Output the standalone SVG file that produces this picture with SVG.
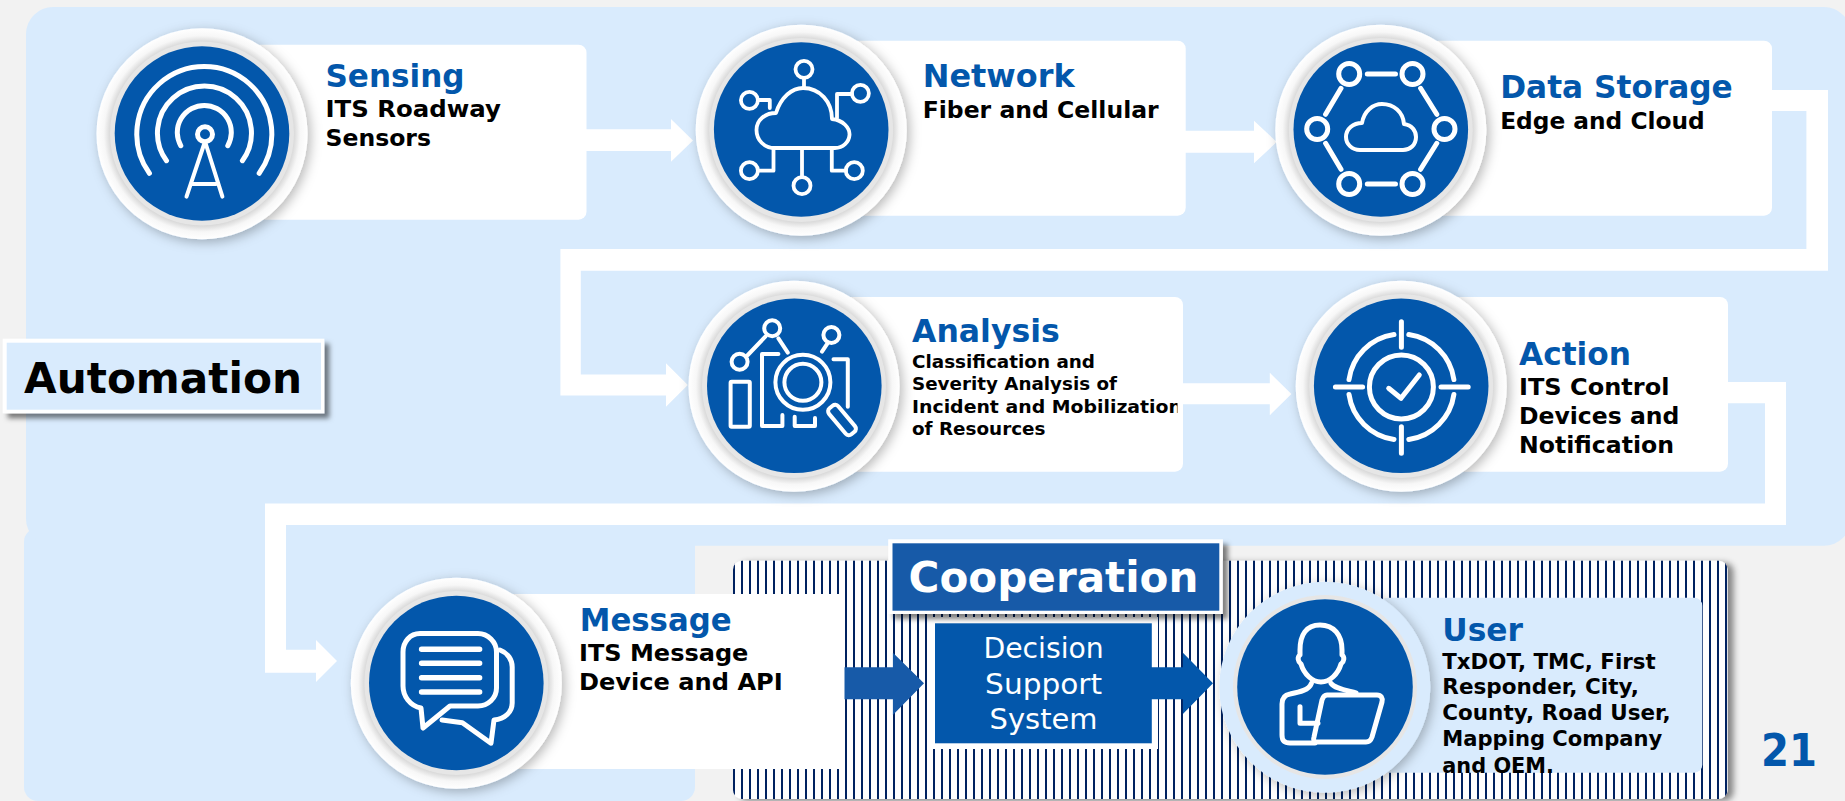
<svg xmlns="http://www.w3.org/2000/svg" width="1845" height="801" viewBox="0 0 1845 801">
<style>
text{font-family:"DejaVu Sans","Liberation Sans",sans-serif}
.t{font-weight:700;font-size:32px;fill:#0357ab;transform:translateX(-1px)}
.s{font-weight:700;font-size:23.5px;fill:#000;transform:translateX(-1px)}
.m{font-weight:700;font-size:17.5px;fill:#000;transform:translateX(-1px)}
.u{font-weight:700;font-size:21.5px;fill:#000;transform:translateX(-1px)}
.d{font-size:28px;fill:#fff;text-anchor:middle}
.card{fill:#fff}
.o{fill:url(#ringGrad);filter:url(#cs)}
.r{fill:#e6e6e6}
.b{fill:#0357ab}
.i{fill:none;stroke:#fff;stroke-width:5;stroke-linecap:round;stroke-linejoin:round}
.n{stroke-width:3.8}
</style>
<defs>
<pattern id="stripes" patternUnits="userSpaceOnUse" x="5" y="0" width="8" height="8">
<rect width="8" height="8" fill="#fff"/><rect width="2" height="8" fill="#002060"/>
</pattern>
<radialGradient id="ringGrad"><stop offset=".86" stop-color="#d4d4d4"/><stop offset=".93" stop-color="#f7f7f7"/><stop offset="1" stop-color="#fff"/></radialGradient>
<filter id="cs" x="-20%" y="-20%" width="150%" height="150%"><feDropShadow dx="3" dy="3" stdDeviation="6" flood-color="#000" flood-opacity=".28"/></filter>
<filter id="ps" x="-5%" y="-10%" width="110%" height="120%"><feDropShadow dx="6" dy="2" stdDeviation="3" flood-color="#000" flood-opacity=".45"/></filter>
<filter id="ls" x="-5%" y="-20%" width="110%" height="140%"><feDropShadow dx="5" dy="5" stdDeviation="2.5" flood-color="#000" flood-opacity=".5"/></filter>
<clipPath id="anClip"><rect x="900" y="290" width="278.5" height="190"/></clipPath>
</defs>

<rect width="1845" height="801" fill="#f2f2f2"/>
<g id="panels">
<rect x="24" y="528" width="671" height="273" rx="14" fill="#d9ebfd"/>
<rect x="26" y="7" width="1825" height="538.7" rx="27" fill="#d9ebfd"/>
<rect id="cooperation-panel" x="733" y="560.7" width="994.5" height="238.3" rx="9" fill="url(#stripes)" filter="url(#ps)"/>
</g>

<g id="decision-support-system">
<rect x="928" y="617" width="230" height="132" fill="#fff"/>
<rect x="935" y="623.3" width="216.8" height="120" fill="#0357ab"/>
<text class="d" x="1043.6" y="658.3" textLength="120.4" lengthAdjust="spacingAndGlyphs">Decision</text>
<text class="d" x="1043.6" y="693.7" textLength="117" lengthAdjust="spacingAndGlyphs">Support</text>
<text class="d" x="1043.6" y="729.3" textLength="108" lengthAdjust="spacingAndGlyphs">System</text>
</g>

<g id="connectors">
<path fill="#fff" d="M586,129.3H671V119L693,140.5L671,161.7V151H586Z"/>
<path fill="#fff" d="M1185,130.7H1254V120.7L1276.7,142L1254,163.3V152.7H1185Z"/>
<path fill="#fff" d="M1772,90H1828V270.7H580.8V374.5H666V363.3L687.8,385L666,406.7V395.5H560.4V249H1806.4V111H1772Z"/>
<path fill="#fff" d="M1182,383.3H1269.8V372.7L1291.4,394L1269.8,415.3V404.3H1182Z"/>
<path fill="#fff" d="M1727,382H1786V525H286V649.7H316V640L337,661L316,682V672.7H265V503.5H1765V403.3H1727Z"/>
<path fill="#175aa8" d="M844,667.3H892.9V652.7L924,683.3L892.9,715V699.3H844Z"/>
<path fill="#0357ab" d="M1151,667.3H1182.9V652.7L1213,683.3L1182.9,714V699.3H1151Z"/>
</g>

<g id="sensing">
<rect class="card" x="250" y="44.7" width="336.5" height="175" rx="8"/>
<circle class="o" cx="202" cy="133.8" r="105.5"/><circle class="r" cx="202" cy="133.5" r="92"/><circle class="b" cx="202" cy="133.5" r="87.3"/>
<g class="i">
<circle cx="205" cy="134.3" r="7.5"/>
<path d="M180.8,145.7A27,27 0 1 1 227.8,145.7M166.5,160.7A47,47 0 1 1 242.4,160.7M149.4,173.3A67.5,67.5 0 1 1 259.2,173.3"/>
<path d="M204.5,143L186.5,196.7M205.5,143L222.4,196.7M193,184H216" style="stroke-width:4"/>
</g>
<text class="t" x="326.5" y="86.7" textLength="139" lengthAdjust="spacingAndGlyphs">Sensing</text>
<text class="s" x="326.5" y="116.7" textLength="175.5" lengthAdjust="spacingAndGlyphs">ITS Roadway</text>
<text class="s" x="326.5" y="145.7" textLength="105.5" lengthAdjust="spacingAndGlyphs">Sensors</text>
</g>

<g id="network">
<rect class="card" x="850" y="40.7" width="335.7" height="175" rx="8"/>
<circle class="o" cx="801.2" cy="130.2" r="105.5"/><circle class="r" cx="801.2" cy="130" r="92"/><circle class="b" cx="801.2" cy="129.5" r="87.3"/>
<g class="i n">
<path d="M776,113C781,97 792,88 803,88C820,88 832,102 832,119C843,120 850,128 849.5,135C849,142 843,148 835,148L775,148C764,148 756.5,140 756.5,130C756.5,120 765,113 776,113Z"/>
<circle cx="804" cy="69.3" r="8.5"/><circle cx="749.4" cy="100.3" r="8.5"/><circle cx="860.4" cy="93.3" r="8.5"/><circle cx="749.4" cy="170.7" r="8.5"/><circle cx="802" cy="185.7" r="8.5"/><circle cx="854.3" cy="170.7" r="8.5"/>
<path d="M804,78V88M758,100H769.8V108M852,94H837V118M758,170.7H773.5V149M802,177V149M846,170.7H831.8V149"/>
</g>
<text class="t" x="923.7" y="87.3" textLength="152" lengthAdjust="spacingAndGlyphs">Network</text>
<text class="s" x="923.7" y="118.3" textLength="236" lengthAdjust="spacingAndGlyphs">Fiber and Cellular</text>
</g>

<g id="data-storage">
<rect class="card" x="1430" y="40.7" width="342" height="175" rx="8"/>
<circle class="o" cx="1380.8" cy="130.2" r="105.5"/><circle class="r" cx="1380.8" cy="130" r="92"/><circle class="b" cx="1380.8" cy="129.5" r="87.3"/>
<g class="i">
<circle cx="1349.2" cy="74" r="10.5"/><circle cx="1412.5" cy="74" r="10.5"/><circle cx="1317.2" cy="129" r="10.5"/><circle cx="1444.5" cy="129" r="10.5"/><circle cx="1349.2" cy="184" r="10.5"/><circle cx="1412.5" cy="184" r="10.5"/>
<path d="M1367.3,74H1395.5M1341,88.3L1325.6,114.3M1420.6,88.3L1436.8,114.3M1325.6,143.3L1341,169.3M1436.8,143.3L1420.6,169.3M1367.3,184H1395.5"/>
<path d="M1362,123C1364,111 1373,104 1382,104C1394,104 1403,112 1404,124C1412,125 1416,131 1416,137C1416,145 1410,150 1403,150L1360,150C1352,150 1346,144 1346,137C1346,129 1353,123 1362,123Z" style="stroke-width:4"/>
</g>
<text class="t" x="1501.2" y="98.3" textLength="232.6" lengthAdjust="spacingAndGlyphs">Data Storage</text>
<text class="s" x="1501.2" y="129" textLength="204.5" lengthAdjust="spacingAndGlyphs">Edge and Cloud</text>
</g>

<g id="analysis">
<rect class="card" x="840" y="297" width="343" height="174.7" rx="8"/>
<circle class="o" cx="794" cy="386.3" r="105.5"/><circle class="r" cx="794" cy="386" r="92"/><circle class="b" cx="794.3" cy="385.8" r="87.3"/>
<g class="i" style="stroke-width:4">
<circle cx="772.2" cy="328.3" r="8"/><circle cx="831.4" cy="335" r="8"/><circle cx="739.6" cy="361.7" r="8"/>
<path d="M747.8,355L765.3,336.7M778.4,338.3L787.8,352.7M828,342.7L822,351.7"/>
<rect x="730.6" y="381.7" width="19.2" height="45" rx="1"/>
<path d="M778.4,354H762V426H782.4V415M794.7,416.7V426H815V418M833.5,359.3H847.8V406.7"/>
<circle cx="802.9" cy="382.3" r="27.5"/><circle cx="802.9" cy="382.3" r="18.5"/>
<rect x="825" y="414" width="34" height="12" rx="4" transform="rotate(50 842 420)"/>
</g>
<text class="t" x="913" y="342.3" textLength="147.8" lengthAdjust="spacingAndGlyphs">Analysis</text>
<text class="m" x="913" y="367.7" textLength="183" lengthAdjust="spacingAndGlyphs">Classification and</text>
<text class="m" x="913" y="390" textLength="205" lengthAdjust="spacingAndGlyphs">Severity Analysis of</text>
<text class="m" x="913" y="412.7" textLength="270" lengthAdjust="spacingAndGlyphs" clip-path="url(#anClip)">Incident and Mobilization</text>
<text class="m" x="913" y="434.7" textLength="133.5" lengthAdjust="spacingAndGlyphs">of Resources</text>
</g>

<g id="action">
<rect class="card" x="1450" y="297" width="278" height="174.7" rx="8"/>
<circle class="o" cx="1401.2" cy="386.3" r="105.5"/><circle class="r" cx="1401.2" cy="386" r="92"/><circle class="b" cx="1401.2" cy="385.8" r="87.3"/>
<g class="i">
<path d="M1401.4,321.7V347.3M1401.4,426.7V453.3M1335.4,387H1362.6M1441,387H1468.2"/>
<path d="M1394,334.5A53,53 0 0 0 1349,379.6M1408.8,334.5A53,53 0 0 1 1453.9,379.6M1349,394.4A53,53 0 0 0 1394,439.5M1453.9,394.4A53,53 0 0 1 1408.8,439.5"/>
<circle cx="1401.4" cy="387" r="32"/>
<path d="M1388.7,388.3L1401,398.3L1419.3,375"/>
</g>
<text class="t" x="1520" y="365" textLength="112" lengthAdjust="spacingAndGlyphs">Action</text>
<text class="s" x="1520" y="395" textLength="150.4" lengthAdjust="spacingAndGlyphs">ITS Control</text>
<text class="s" x="1520" y="424" textLength="160.4" lengthAdjust="spacingAndGlyphs">Devices and</text>
<text class="s" x="1520" y="453" textLength="155" lengthAdjust="spacingAndGlyphs">Notification</text>
</g>

<g id="message">
<rect class="card" x="500" y="594" width="344.5" height="175"/>
<circle class="o" cx="456.3" cy="683.2" r="105.5"/><circle class="r" cx="456.3" cy="683" r="92"/><circle class="b" cx="456.3" cy="683" r="87.3"/>
<g class="i">
<path d="M420,633.5H478C488,633.5 496.5,642 496.5,652V688C496.5,698 488,706 478,706H450L423,728L421,708C410,706 403,696 403,686V652C403,642 410,633.5 420,633.5Z"/>
<path d="M500,650C508,653 512.2,660 512.2,667V703C512.2,712 505,719 494,720L491,743.3L462.4,722.7L442,720"/>
<path d="M421.6,649.3H479.6M421.6,663.3H479.6M421.6,677.7H479.6M421.6,692H479.6" style="stroke-width:5.5"/>
</g>
<text class="t" x="580.8" y="630.7" textLength="151.8" lengthAdjust="spacingAndGlyphs">Message</text>
<text class="s" x="580" y="661" textLength="169.4" lengthAdjust="spacingAndGlyphs">ITS Message</text>
<text class="s" x="580" y="690.3" textLength="203.7" lengthAdjust="spacingAndGlyphs">Device and API</text>
</g>

<g id="cooperation-label">
<rect x="888.2" y="539.3" width="334.7" height="74.7" fill="#fff" filter="url(#ls)"/>
<rect x="892.5" y="543.3" width="326.8" height="67.4" fill="#175aa8"/>
<text x="908.5" y="592.3" font-size="42" font-weight="700" fill="#fff" textLength="290" lengthAdjust="spacingAndGlyphs">Cooperation</text>
</g>

<g id="user">
<rect x="1380" y="597.7" width="322.3" height="175" rx="8" fill="#d9ebfd"/>
<circle cx="1324.8" cy="687.2" r="105.5" fill="#d9ebfd" filter="url(#cs)"/><circle class="r" cx="1325" cy="687" r="92"/><circle class="b" cx="1325" cy="687" r="87.8"/>
<g class="i">
<path d="M1320,625C1306,625 1300,635 1300,650L1300,655C1297,657 1298,662 1301,664C1304,674 1312,682 1321,682C1330,682 1338,674 1341,664C1344,662 1345,657 1342,655L1342,650C1342,635 1334,625 1320,625Z"/>
<path d="M1311.4,683.3C1309,690 1300,692 1290,694C1284,695 1282,699 1282,704V735C1282,740 1284,743 1290,743H1315"/>
<path d="M1331,683.3C1334,688 1345,690 1356,693"/>
<path d="M1300,706.7V723.3H1318"/>
<path d="M1327,695H1377C1381,695 1383,698 1382,702L1372,737C1371,740 1369,742 1366,742H1316C1314,742 1313,740 1314,737L1322,700C1323,697 1324,695 1327,695Z"/>
</g>
<text class="t" x="1443.3" y="641" textLength="80.7" lengthAdjust="spacingAndGlyphs">User</text>
<text class="u" x="1443.3" y="669" textLength="213.3" lengthAdjust="spacingAndGlyphs">TxDOT, TMC, First</text>
<text class="u" x="1443.3" y="694" textLength="196.7" lengthAdjust="spacingAndGlyphs">Responder, City,</text>
<text class="u" x="1443.3" y="720" textLength="228.3" lengthAdjust="spacingAndGlyphs">County, Road User,</text>
<text class="u" x="1443.3" y="746" textLength="220" lengthAdjust="spacingAndGlyphs">Mapping Company</text>
<text class="u" x="1443.3" y="772.7" textLength="111.7" lengthAdjust="spacingAndGlyphs">and OEM.</text>
</g>

<g id="automation-label">
<rect x="2.7" y="338.7" width="321.6" height="74.6" fill="#fff" filter="url(#ls)"/>
<rect x="6.7" y="342.7" width="314.3" height="67" fill="#d9ebfd"/>
<text x="24" y="393.3" font-size="42" font-weight="700" fill="#000" textLength="278" lengthAdjust="spacingAndGlyphs">Automation</text>
</g>

<text id="page-number" x="1761" y="766" font-size="44" font-weight="700" fill="#0357ab" textLength="56" lengthAdjust="spacingAndGlyphs">21</text>
</svg>
